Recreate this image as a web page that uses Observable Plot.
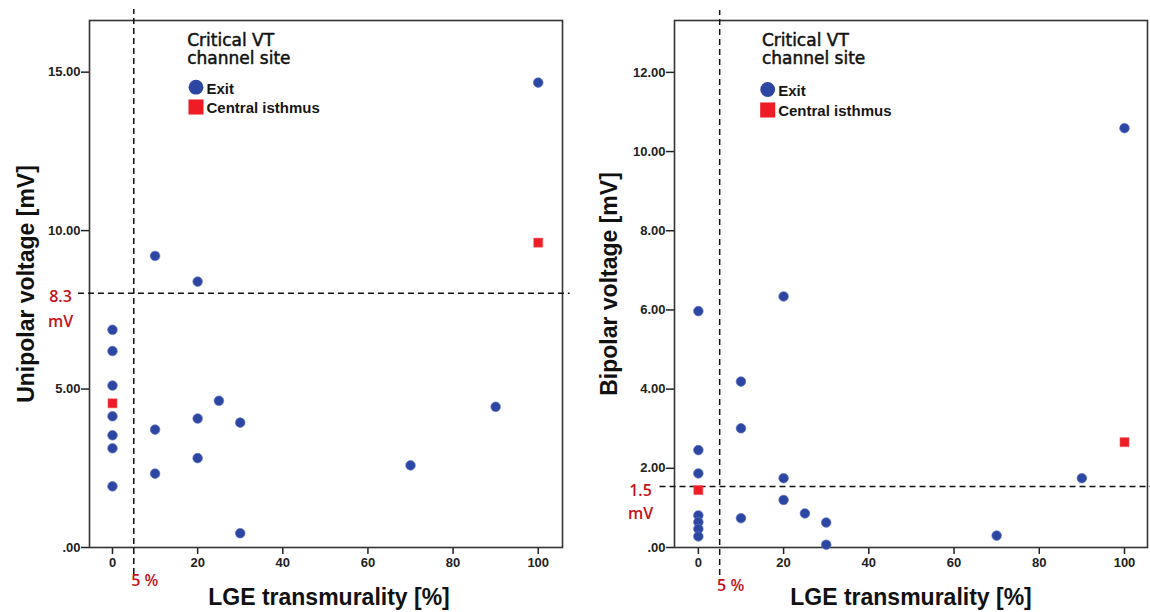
<!DOCTYPE html>
<html>
<head>
<meta charset="utf-8">
<script src="https://cdn.jsdelivr.net/npm/d3@7"></script>
<script src="https://cdn.jsdelivr.net/npm/@observablehq/plot@0.6"></script>
<style>
  html, body { margin: 0; padding: 0; background: #fff; }
  #row { display: flex; flex-direction: row; width: 1150px; height: 612px; }
  #row svg { overflow: visible; }
</style>
</head>
<body>
<div id="row"></div>
<script>
// ---------- data ----------
const xTicks = [0, 20, 40, 60, 80, 100];
const uniTicks = [0, 5, 10, 15];
const biTicks = [0, 2, 4, 6, 8, 10, 12];

// Unipolar voltage panel
const uniExitLGE = [0, 0, 0, 0, 0, 0, 0, 10, 10, 10, 20, 20, 20, 25, 30, 30, 70, 90, 100];
const uniExitMV  = [6.87, 6.20, 5.11, 4.14, 3.54, 3.13, 1.93, 9.20, 3.72, 2.33, 8.39, 4.07, 2.82, 4.63, 3.94, 0.45, 2.59, 4.44, 14.67];
const uniCentralLGE = [0, 100];
const uniCentralMV  = [4.55, 9.62];

// Bipolar voltage panel
const biExitLGE = [0, 0, 0, 0, 0, 0, 0, 10, 10, 10, 20, 20, 20, 25, 30, 30, 70, 90, 100];
const biExitMV  = [5.97, 2.46, 1.87, 0.81, 0.64, 0.47, 0.28, 4.19, 3.01, 0.74, 6.34, 1.75, 1.20, 0.86, 0.63, 0.07, 0.30, 1.75, 10.59];
const biCentralLGE = [0, 100];
const biCentralMV  = [1.45, 2.66];

// cut-off lines (as drawn) and their labels
const lgeCutoff = 5;
const lgeCutoffLabel = "5 %";
const uniCutoffDrawn = 8.02;
const uniCutoffLabel = ["8.3", "mV"];
const biCutoffDrawn = 1.54;
const biCutoffLabel = ["1.5", "mV"];

const legendTitle = ["Critical VT", "channel site"];
const seriesNames = ["Exit", "Central isthmus"];
const xTitle = "LGE transmurality [%]";
const uniTitle = "Unipolar voltage [mV]";
const biTitle = "Bipolar voltage [mV]";

// ---------- helpers ----------
const pts = (xs, ys) => xs.map((x, i) => ({x, y: ys[i]}));
const BLUE = "#2c46a2";
const RED = "#ee1c25";
const DARKRED = "#c3121c";
const SANS = "'Liberation Sans', Arial, sans-serif";
const LBL = "'Open Sans', 'Segoe UI', sans-serif";

function panel(cfg) {
  const red = {fill: DARKRED, fontSize: 16, fontWeight: 600, fontFamily: LBL, textAnchor: "middle", lineAnchor: "middle"};
  const legTitle = {frameAnchor: "top-left", dx: cfg.legDx, textAnchor: "start", lineAnchor: "middle",
    fontSize: 17, fontWeight: "normal", fill: "#111", stroke: "#111", strokeWidth: 0.5,
    fontFamily: "'DejaVu Sans', sans-serif"};
  const legItem = {frameAnchor: "top-left", dx: cfg.symDx + 10.5, textAnchor: "start", lineAnchor: "middle",
    fontSize: 15, fontWeight: "bold", fill: "#161616"};
  return Plot.plot({
    width: 575,
    height: 612,
    marginLeft: cfg.marginLeft,
    marginRight: cfg.marginRight,
    marginTop: 20,
    marginBottom: 65,
    x: {domain: cfg.xDomain},
    y: {domain: cfg.yDomain},
    style: {fontFamily: SANS, fontSize: "13px", fontWeight: "bold", color: "#222", background: "white", overflow: "visible"},
    marks: [
      Plot.axisX({ticks: xTicks, tickSize: 7, tickPadding: 3, label: null, tickFormat: d => String(d), strokeWidth: 1.5}),
      Plot.axisY({ticks: cfg.yTicks, tickSize: 8, tickPadding: 1, label: null,
                  tickFormat: d => d === 0 ? ".00" : d.toFixed(2), strokeWidth: 1.5}),
      Plot.frame({stroke: "#333", strokeWidth: 1.6}),
      // cut-off lines
      Plot.ruleX([lgeCutoff], {y1: cfg.vY1, y2: cfg.vY2, stroke: "#111", strokeWidth: 1.5, strokeDasharray: "6,4"}),
      Plot.ruleY([cfg.hLine], {x1: cfg.hX1, x2: cfg.hX2, stroke: "#111", strokeWidth: 1.5, strokeDasharray: "6,4"}),
      // cut-off labels
      Plot.text([cfg.hLabel[0]], {frameAnchor: "left", y: [cfg.hLine], dx: cfg.hLabelDx, dy: 4, ...red}),
      Plot.text([cfg.hLabel[1]], {frameAnchor: "left", y: [cfg.hLine], dx: cfg.hLabelDx, dy: cfg.hLabelDy2, ...red}),
      Plot.text([lgeCutoffLabel], {frameAnchor: "bottom", x: [lgeCutoff], dx: 11, dy: cfg.pctDy, ...red}),
      // axis titles
      Plot.text([xTitle], {frameAnchor: "bottom", dx: cfg.xTitleDx, dy: 50, textAnchor: "middle", lineAnchor: "middle",
        fontSize: 23, fontWeight: "bold", fill: "#111"}),
      Plot.text([cfg.yTitle], {frameAnchor: "left", dx: cfg.yTitleDx, rotate: -90, textAnchor: "middle", lineAnchor: "middle",
        fontSize: 23, fontWeight: "bold", fill: "#111"}),
      // data
      Plot.dot(pts(cfg.exitX, cfg.exitY), {x: "x", y: "y", r: 4.8, fill: BLUE, stroke: "#5a72c2", strokeWidth: 0.7}),
      Plot.dot(pts(cfg.centX, cfg.centY), {x: "x", y: "y", r: 5.1, symbol: "square", fill: RED, stroke: "#f25a60", strokeWidth: 0.6}),
      // legend
      Plot.text([legendTitle[0]], {...legTitle, dy: 19.6}),
      Plot.text([legendTitle[1]], {...legTitle, dy: 37.9}),
      Plot.dot([0], {frameAnchor: "top-left", dx: cfg.symDx, dy: cfg.circDy, r: 7.4, fill: BLUE}),
      Plot.dot([0], {frameAnchor: "top-left", dx: cfg.symDx, dy: cfg.sqDy, r: 8.5, symbol: "square", fill: RED}),
      Plot.text([seriesNames[0]], {...legItem, dy: cfg.circDy + 2}),
      Plot.text([seriesNames[1]], {...legItem, dy: cfg.sqDy + 1})
    ]
  });
}

const left = panel({
  marginLeft: 89, marginRight: 13,
  xDomain: [-5.4, 105.7], yDomain: [0, 16.63], yTicks: uniTicks,
  vY1: -0.85, vY2: 16.98,
  hLine: uniCutoffDrawn, hX1: -8.0, hX2: 107.5,
  hLabel: uniCutoffLabel, hLabelDx: -29, hLabelDy2: 29, pctDy: 33,
  xTitleDx: 3, yTitle: uniTitle, yTitleDx: -63,
  exitX: uniExitLGE, exitY: uniExitMV, centX: uniCentralLGE, centY: uniCentralMV,
  legDx: 97.7, symDx: 106.5, circDy: 66.7, sqDy: 86.5
});

const right = panel({
  marginLeft: 99, marginRight: 3,
  xDomain: [-5.6, 105.4], yDomain: [0, 13.31], yTicks: biTicks,
  vY1: -0.71, vY2: 13.56,
  hLine: biCutoffDrawn, hX1: -9.0, hX2: 106.2,
  hLabel: biCutoffLabel, hLabelDx: -34, hLabelDy2: 27, pctDy: 38,
  xTitleDx: 0, yTitle: biTitle, yTitleDx: -65,
  exitX: biExitLGE, exitY: biExitMV, centX: biCentralLGE, centY: biCentralMV,
  legDx: 87.4, symDx: 93.2, circDy: 69, sqDy: 89.5
});

document.getElementById("row").append(left, right);
</script>
</body>
</html>
